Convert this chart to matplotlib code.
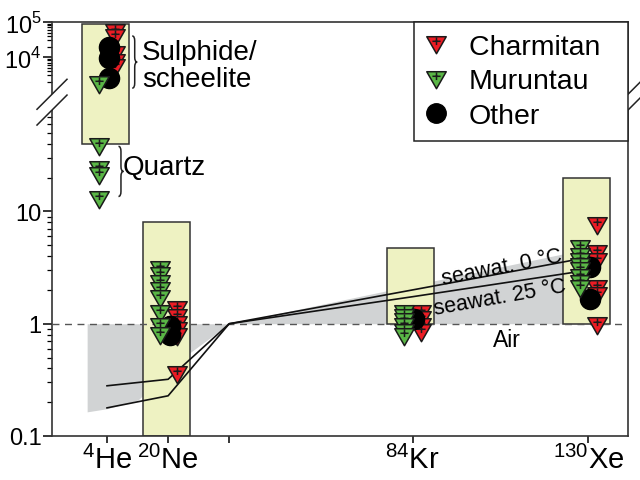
import numpy as np
import matplotlib
matplotlib.use('Agg')
import matplotlib.pyplot as plt
from matplotlib.lines import Line2D
from matplotlib.path import Path
from matplotlib.patches import PathPatch, Rectangle, Polygon
from matplotlib.ticker import FixedLocator, FixedFormatter, NullFormatter
from matplotlib import font_manager

# fonts: narrow face for the isotope labels when it is installed
names = {f.name for f in font_manager.fontManager.ttflist}
if 'Liberation Sans Narrow' in names:
    narrow, iso_size = 'Liberation Sans Narrow', 22
else:
    narrow, iso_size = 'Liberation Sans', 21
plt.rcParams['font.family'] = 'Liberation Sans'
plt.rcParams['mathtext.fontset'] = 'custom'
plt.rcParams['mathtext.rm'] = 'Liberation Sans'
plt.rcParams['mathtext.sf'] = narrow

# isotopes on the x axis (mass number)
masses = [4, 20, 36, 84, 130]
iso_labels = [r'$^{\mathsf{4}}$He', r'$^{\mathsf{20}}$Ne', '', r'$^{\mathsf{84}}$Kr', r'$^{\mathsf{130}}$Xe']

# F-values (normalised to 36Ar and air)
charmitan = {4: [52000, 37000, 12000, 7200, 5200],
             20: [1.35, 1.15, 1.0, 0.88, 0.78, 0.36],
             84: [1.25, 1.1, 0.95, 0.85],
             130: [7.6, 4.3, 3.6, 2.1, 1.8, 0.98]}
muruntau = {4: [1700, 38, 24, 21, 13],
            20: [3.1, 2.7, 2.3, 2.0, 1.7, 1.25, 0.95, 0.8],
            84: [1.25, 1.15, 1.05, 0.95, 0.85, 0.78],
            130: [4.7, 4.0, 3.6, 3.3, 3.0, 2.6, 2.3, 2.1]}
other = {4: [20000, 9500, 2600],
         20: [0.95, 0.8],
         84: [1.1],
         130: [3.2, 1.65]}

# range boxes for each isotope
box_mass = [4, 20, 84, 130]
box_lo = [40, 0.1, 1.0, 1.0]
box_hi = [87000, 8.0, 4.7, 19.7]

# air-saturated seawater
sw_mass = [4, 20, 36, 84, 130]
sw_0c = [0.178, 0.228, 1.0, 2.0, 3.9]
sw_25c = [0.28, 0.32, 1.0, 1.74, 3.0]

# shaded water field
field_x = [-1.2, 4, 12.1, 25, 36, 125]
field_lo = [0.164, 0.175, 0.209, 0.53, 1.0, 1.0]
field_hi = [1.0, 1.0, 1.0, 1.0, 1.0, 4.3]


# broken log axis: full decades below 100, compressed decades above 1000
def fwd(v):
    lv = np.log10(np.maximum(np.asarray(v, dtype=float), 1e-300))
    return np.where(lv <= 2, lv,
                    np.where(lv >= 3, 2.375 + (lv - 4) * 0.3125, 2 + (lv - 2) * 0.0625))


def inv(p):
    p = np.asarray(p, dtype=float)
    return np.where(p <= 2, 10 ** p,
                    np.where(p >= 2.0625, 10 ** (4 + (p - 2.375) / 0.3125),
                             10 ** (2 + (p - 2) / 0.0625)))


# down-pointing triangle with a cross inside
tri = Path([(-1, 0.8), (1, 0.8), (0, -0.95), (-1, 0.8),
            (-0.42, 0.33), (0.42, 0.33), (0, 0.7), (0, -0.06)],
           [Path.MOVETO, Path.LINETO, Path.LINETO, Path.CLOSEPOLY,
            Path.MOVETO, Path.LINETO, Path.MOVETO, Path.LINETO])

red = '#ec1c24'
green = '#5ab646'

fig = plt.figure(figsize=(6.4, 4.81), dpi=100)
ax = fig.add_axes([0.08125, 0.0915, 0.9, 0.8607])
ax.set_yscale('function', functions=(fwd, inv))
ax.set_ylim(0.1, 1e5)
ax.set_xlim(-10.4, 140.4)

ax.fill_between(field_x, field_lo, field_hi, color='#d1d3d4', lw=0, zorder=1)

for m, lo, hi in zip(box_mass, box_lo, box_hi):
    ax.add_patch(Rectangle((m - 6.65, lo), 12.3, hi - lo, facecolor='#eef2c2',
                           edgecolor='#333333', lw=1.1, zorder=2))

ax.axhline(1, color='#555555', lw=1, ls=(0, (5, 4)), zorder=3)
ax.plot(sw_mass, sw_0c, color='#111111', lw=1.2, zorder=3)
ax.plot(sw_mass, sw_25c, color='#111111', lw=1.2, zorder=3)

for m in [4, 20, 84, 130]:
    ax.plot([m + 2.2] * len(charmitan[m]), charmitan[m], ls='none', marker=tri, ms=14,
            mfc=red, mec='#1a1a1a', mew=1.1, zorder=4)
    ax.plot([m + 0.4] * len(other[m]), other[m], ls='none', marker='o', ms=14.5,
            mfc='black', mec='black', zorder=5)
    ax.plot([m - 2.2] * len(muruntau[m]), muruntau[m], ls='none', marker=tri, ms=14,
            mfc=green, mec='#1a1a1a', mew=1.1, zorder=6)

# ticks
major = [0.1, 1, 10, 1e4, 1e5]
minor = [k * 10.0 ** d for d in (-1, 0) for k in range(2, 10)] + [k * 10 for k in range(2, 9)] \
    + [k * 1e3 for k in range(2, 10)] + [k * 1e4 for k in range(2, 10)]
ax.yaxis.set_major_locator(FixedLocator(major))
ax.yaxis.set_major_formatter(FixedFormatter(['0.1', '1', '10', r'$10^4$', r'$10^5$']))
ax.yaxis.set_minor_locator(FixedLocator(minor))
ax.yaxis.set_minor_formatter(NullFormatter())
ax.tick_params(axis='y', which='major', labelsize=17, length=6.5, width=1.1, pad=1)
ax.tick_params(axis='y', which='minor', length=3.5, width=0.9)
ax.set_xticks(masses)
ax.set_xticklabels(iso_labels, fontfamily=narrow, fontsize=iso_size)
ax.tick_params(axis='x', length=5, width=1.1, pad=1)
for s in ax.spines.values():
    s.set_linewidth(1.2)
    s.set_color('#333333')

# annotations
ax.text(13.2, 32700, 'Sulphide/\nscheelite', fontsize=20, va='top', linespacing=1.05, zorder=7)
ax.text(8.2, 24.7, 'Quartz', fontsize=20, va='center')
ax.text(107.3, 3.23, 'seawat. 0 \u00b0C', fontsize=15.5, rotation=11,
        ha='center', va='center', zorder=7)
ax.text(106.8, 1.74, 'seawat. 25 \u00b0C', fontsize=15.5, rotation=10,
        ha='center', va='center', zorder=7)
ax.text(108.8, 0.72, 'Air', fontsize=16.5, ha='center', va='center')

to_ax = ax.transAxes.inverted()


def brace(x, top, bottom, w=5):
    px, y0 = ax.transData.transform((x, top))
    y1 = ax.transData.transform((x, bottom))[1]
    ym = (y0 + y1) / 2
    r = min(w, abs(y0 - y1) / 4)
    h = px + w * 0.5
    verts = [(px, y0), (h, y0), (h, y0 - r), (h, ym + r), (h, ym), (px + w, ym),
             (h, ym), (h, ym - r), (h, y1 + r), (h, y1), (px, y1)]
    codes = [Path.MOVETO, Path.CURVE3, Path.CURVE3, Path.LINETO, Path.CURVE3, Path.CURVE3,
             Path.CURVE3, Path.CURVE3, Path.LINETO, Path.CURVE3, Path.CURVE3]
    ax.add_patch(PathPatch(Path(to_ax.transform(verts), codes), transform=ax.transAxes,
                           fill=False, lw=1.1, color='#222222', clip_on=False))


brace(10.6, 40000, 1300)
brace(7.0, 38, 13.6)

# axis break marks
brk = [80, 500]
for xs in (0, 1):
    ys = [to_ax.transform(ax.transData.transform((0, b)))[1] for b in brk]
    dx, dy = 15 / 576, 15 / 414
    ax.add_patch(Polygon([(xs - dx, ys[0] - dy), (xs + dx, ys[0] + dy),
                          (xs + dx, ys[1] + dy), (xs - dx, ys[1] - dy)],
                         transform=ax.transAxes, facecolor='white', edgecolor='none',
                         clip_on=False, zorder=8))
    for y in ys:
        ax.add_line(Line2D([xs - dx, xs + dx], [y - dy, y + dy], transform=ax.transAxes,
                           color='#222222', lw=1.1, clip_on=False, zorder=9))

handles = [Line2D([], [], ls='none', marker=tri, ms=14, mfc=red, mec='#1a1a1a', mew=1.1),
           Line2D([], [], ls='none', marker=tri, ms=14, mfc=green, mec='#1a1a1a', mew=1.1),
           Line2D([], [], ls='none', marker='o', ms=14, mfc='black', mec='black')]
leg = ax.legend(handles, ['Charmitan  ', 'Muruntau', 'Other'], loc='upper right',
                bbox_to_anchor=(1, 1), borderaxespad=0, fontsize=20.5, fancybox=False,
                edgecolor='#222222', framealpha=1, handlelength=0.7, handletextpad=0.81,
                labelspacing=0.3, borderpad=0.42)
leg.set_zorder(10)
leg.get_frame().set_linewidth(1.1)

fig.savefig('out.png', dpi=100)
